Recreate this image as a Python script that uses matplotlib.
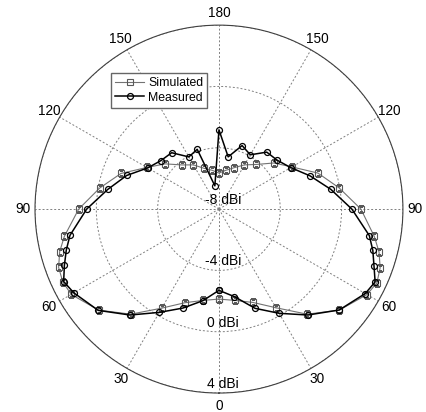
import matplotlib
matplotlib.use("Agg")
import matplotlib.pyplot as plt
import numpy as np

plt.rcParams['font.family'] = ['Liberation Sans', 'DejaVu Sans']

# angle in degrees, 0 at bottom, counter-clockwise (right side 0..180, left side 180..360)
theta_deg = [0, 10, 20, 30, 40, 50, 60, 65, 70, 75, 80, 90, 100, 110, 120, 130, 140, 150, 160, 170,
             180, 190, 200, 210, 220, 230, 240, 250, 260, 270, 280, 285, 290, 295, 300, 310, 320, 330,
             340, 350, 360]

measured = [-2.70, -2.20, -1.11, -0.15, 1.02, 2.24, 3.02, 3.24, 2.76, 2.39, 1.96, 0.67, -0.59, -1.67,
            -2.59, -3.04, -3.15, -3.91, -3.59, -4.54,
            -2.83, -6.46, -3.85, -4.07, -3.20, -3.07, -2.63, -1.59, -0.63, 0.63, 1.87, 2.31, 2.73, 3.18,
            2.93, 2.28, 1.02, -0.22, -1.13, -1.93, -2.70]

simulated = [-2.13, -1.95, -1.52, -0.57, 0.95, 2.25, 3.15, 3.37, 3.19, 2.81, 2.29, 1.26, -0.04, -1.13,
             -2.50, -3.32, -4.20, -4.67, -5.13, -5.43,
             -5.65, -5.43, -5.17, -4.67, -4.24, -3.41, -2.57, -1.20, -0.10, 1.15, 2.24, 2.76, 3.13, 3.24,
             3.13, 2.25, 0.95, -0.54, -1.50, -1.95, -2.13]

tick_angles = [0, 30, 60, 90, 120, 150, 180, 210, 240, 270, 300, 330]
tick_labels = ['0', '30', '60', '90', '120', '150', '180', '150', '120', '90', '60', '30']
ring_values = [-8, -4, 0, 4]
ring_labels = ['-8 dBi', '-4 dBi', '0 dBi', '4 dBi']

fig = plt.figure(figsize=(4.26, 4.12), dpi=100)
ax = fig.add_axes([0.082, 0.046, 0.864, 0.893], projection='polar')
ax.set_theta_zero_location('S')
ax.set_theta_direction(1)
ax.set_ylim(-8, 4)

th = np.deg2rad(theta_deg)
ax.plot(th, simulated, color='0.45', lw=0.8, marker='s', ms=3.8, mfc='none', mec='0.35', mew=0.8,
        label='Simulated', zorder=3)
ax.plot(th, measured, color='black', lw=1.1, marker='o', ms=4.3, mfc='none', mec='black', mew=0.9,
        label='Measured', zorder=4)

ax.set_xticks(np.deg2rad(tick_angles))
ax.set_xticklabels(tick_labels, fontsize=9.8)
ax.tick_params(axis='x', pad=-1.5)
ax.set_yticks([-4, 0, 4])
ax.set_yticklabels([])
ax.grid(True, color='0.5', linestyle=(0, (2, 2)), linewidth=0.7)
ax.spines['polar'].set_color('0.25')
ax.spines['polar'].set_linewidth(0.8)

for v, s in zip(ring_values, ring_labels):
    ax.annotate(s, xy=(0, v), xytext=(3, 1.5), textcoords='offset points', fontsize=10,
                ha='center', va='bottom', zorder=5)

fig.legend(loc='upper left', bbox_to_anchor=(0.26, 0.823), fontsize=8.8, frameon=True,
           fancybox=False, edgecolor='0.4', framealpha=1, borderaxespad=0, handlelength=2.4,
           borderpad=0.35, labelspacing=0.2, handletextpad=0.3)

fig.savefig('out.png', dpi=100)
